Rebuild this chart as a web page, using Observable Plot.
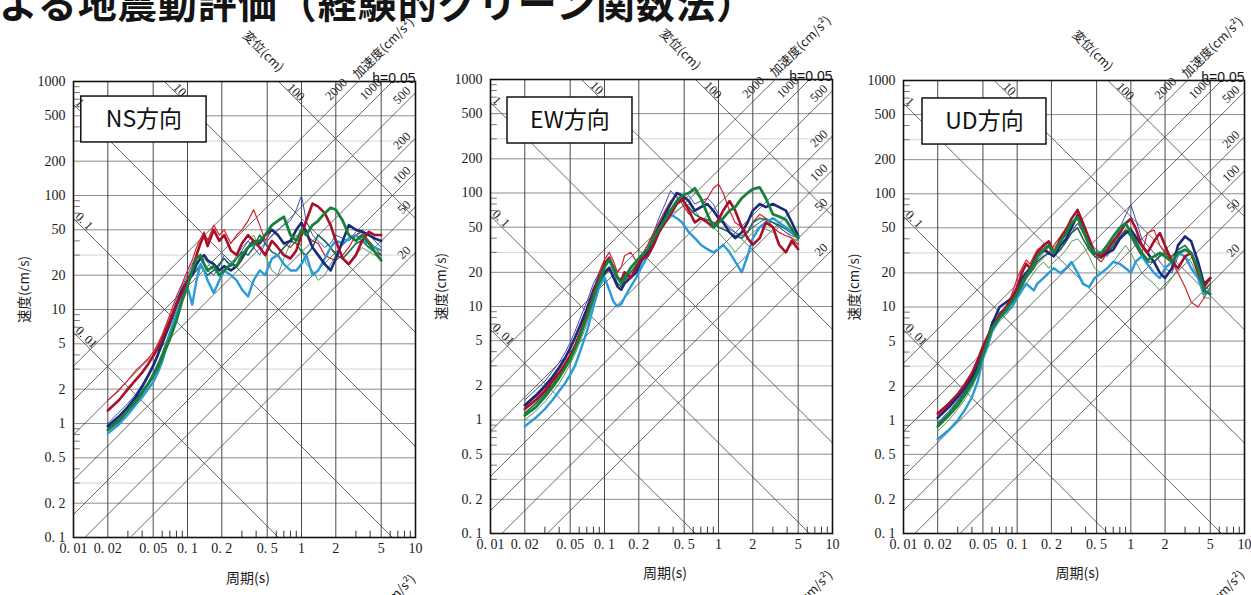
<!DOCTYPE html>
<html><head><meta charset="utf-8">
<script src="https://cdn.jsdelivr.net/npm/d3@7"></script>
<script src="https://cdn.jsdelivr.net/npm/@observablehq/plot@0.6"></script>
<style>
html,body{margin:0;padding:0;background:#fff}
body{width:1251px;height:595px;overflow:hidden;position:relative;font-family:"Noto Sans CJK JP",sans-serif}
#title{position:absolute;left:-1px;top:-18px;font-size:39px;font-weight:700;white-space:nowrap;line-height:1;color:#141414;letter-spacing:1px}
.panel{position:absolute;top:0}
</style></head><body>
<div id="title">よる地震動評価（経験的グリーン関数法）</div>
<div id="p1" class="panel" style="left:0px"></div>
<div id="p2" class="panel" style="left:417px"></div>
<div id="p3" class="panel" style="left:830px"></div>
<script>
// ---------- data ----------
const periods = [0.02,0.025,0.03,0.035,0.04,0.045,0.05,0.055,0.06,0.07,0.08,0.09,0.1,0.11,0.12,0.13,0.14,0.15,0.17,0.19,0.21,0.24,0.27,0.3,0.34,0.38,0.43,0.48,0.55,0.62,0.7,0.8,0.9,1.0,1.1,1.25,1.4,1.6,1.8,2.0,2.3,2.6,3.0,3.4,3.9,4.4,5.0];

const seriesNames  = ["green thin","blue thin","red thin","teal","cyan","navy","dark red","dark green"];
const seriesColors = ["#4f9c58","#3550b8","#d3222e","#1f6b4e","#2a9bd9","#1b2a78","#a90f28","#17803a"];
const seriesWidths = [1.0,1.0,1.2,1.6,2.4,2.6,2.6,2.8];

// NS component
const nsGreenThin = [0.92,1.1,1.35,1.6,1.95,2.3,2.8,3.4,4.2,6.5,10,14,18,21,23,25,28,26,22,25,28,24,30,35,40,45,35,30,22,20,28,38,45,35,25,22,18,20,25,30,28,25,30,35,32,30,28];
const nsBlueThin  = [1.0,1.25,1.5,1.8,2.2,2.7,3.3,4.2,5.3,8,12,16,20,25,30,28,25,22,20,24,30,26,28,33,40,35,30,38,45,50,55,60,75,100,60,45,40,35,38,45,42,40,45,50,45,40,35];
const nsRedThin   = [1.6,1.95,2.4,2.9,3.3,3.7,4.2,5,6,9,13,17,22,27,35,42,48,40,55,45,50,38,45,50,60,75,55,40,50,45,38,35,40,50,45,40,38,30,28,27,30,35,45,48,40,35,30];
const nsTeal      = [0.9,1.08,1.3,1.6,1.9,2.25,2.7,3.3,4,6,9,13,17,20,22,24,22,20,22,25,28,24,28,32,30,35,45,38,32,30,35,40,38,32,30,35,45,40,35,30,28,32,38,40,35,32,30];
const nsCyan      = [0.82,0.98,1.2,1.45,1.7,2.0,2.3,2.8,3.5,6,9,13,16,11,18,25,22,18,14,18,22,20,18,15,13,18,22,20,28,30,25,22,22,25,30,20,22,28,35,40,38,42,45,40,38,35,33];
const nsNavy      = [0.95,1.15,1.4,1.7,2.1,2.6,3.2,4,5,7.5,11,15,18,20,25,28,30,27,25,22,24,22,24,28,35,40,38,45,50,45,38,40,50,58,48,35,30,25,22,28,40,55,50,48,45,42,40];
const nsDarkRed   = [1.3,1.6,2.0,2.4,2.8,3.3,3.9,4.6,5.5,8,11,14,18,22,30,38,45,36,50,40,45,33,30,38,45,40,35,30,40,35,30,28,33,45,60,85,80,70,55,40,28,25,30,40,48,45,45];
const nsDarkGreen = [0.88,1.05,1.3,1.55,1.85,2.2,2.6,3.1,3.8,5.5,8,12,16,22,28,30,25,22,24,20,22,25,24,30,35,38,40,45,55,60,65,45,40,50,45,55,60,70,78,75,60,45,40,45,38,32,27];

// EW component
const ewGreenThin = [1.0,1.2,1.45,1.75,2.1,2.55,3.1,3.8,4.7,7,11,16,20,22,18,15,14,16,20,24,28,30,38,45,55,65,70,75,80,70,60,55,50,45,40,35,30,35,40,45,50,48,45,50,45,40,38];
const ewBlueThin  = [1.5,1.85,2.2,2.7,3.2,3.9,4.8,6,7.5,11,16,20,22,25,20,16,15,18,20,22,28,35,45,60,80,105,90,85,95,80,85,90,80,65,55,48,45,42,45,50,55,60,55,50,45,42,40];
const ewRedThin   = [1.3,1.6,1.9,2.3,2.8,3.4,4.2,5.2,6.5,9,14,20,26,30,25,20,22,28,30,25,28,35,45,55,70,85,95,80,65,70,75,90,110,120,100,70,55,50,45,55,65,60,50,45,42,40,35];
const ewTeal      = [1.15,1.4,1.7,2.05,2.45,2.95,3.55,4.4,5.4,8,12,16,19,21,18,16,15,17,20,23,27,32,42,52,62,72,80,85,75,65,60,58,55,50,48,45,42,40,45,55,60,58,55,52,48,44,40];
const ewCyan      = [0.88,1.05,1.25,1.5,1.8,2.1,2.5,3.0,3.8,6,10,15,18,14,11,10,10.5,12,15,18,22,28,35,45,55,65,60,55,45,40,35,32,30,32,35,30,25,20,28,40,50,55,60,55,50,45,40];
const ewNavy      = [1.35,1.65,2.0,2.4,2.9,3.5,4.3,5.3,6.5,9.5,14,18,20,22,18,15,14,16,18,20,25,30,40,50,65,80,100,95,85,70,75,80,70,60,55,45,40,45,55,70,80,75,80,75,70,55,42];
const ewDarkRed   = [1.25,1.5,1.8,2.2,2.6,3.1,3.7,4.5,5.6,8.5,13,18,24,27,22,18,17,20,18,22,26,28,35,45,55,65,80,90,70,55,60,55,50,58,70,85,70,50,40,35,40,55,50,35,30,38,32];
const ewDarkGreen = [1.1,1.3,1.6,1.95,2.35,2.85,3.4,4.2,5.2,8,12,17,22,26,22,18,16,18,22,25,28,32,40,48,58,70,85,95,100,110,90,65,50,55,60,70,75,90,100,108,112,90,65,62,58,48,40];

// UD component
const udGreenThin = [0.8,1.0,1.25,1.55,1.95,2.5,3.5,4.5,6,7.5,8.5,10,12,14,16,18,20,22,25,22,25,28,32,38,40,35,28,22,20,22,25,30,35,30,25,20,18,16,14,15,18,22,28,25,18,12,12];
const udBlueThin  = [0.95,1.2,1.5,1.85,2.3,3.0,4.2,5.5,7.5,9,10,11,13,16,18,20,22,26,30,34,30,32,38,45,55,45,38,33,30,28,35,50,65,80,60,40,35,30,25,22,20,28,32,30,22,15,14];
const udRedThin   = [1.1,1.35,1.65,2.0,2.5,3.2,4.2,5,6.2,8,10,13,18,22,26,24,28,32,35,30,35,42,50,55,60,45,35,28,25,30,35,40,45,50,40,30,45,48,35,30,25,20,15,11,10,12,15];
const udTeal      = [0.92,1.15,1.45,1.8,2.25,2.9,4.0,5.2,6.8,8.5,10,11.5,13,15,18,20,22,25,28,30,28,32,38,45,50,40,32,28,27,30,35,42,48,42,35,28,25,25,28,30,28,32,35,30,20,14,16];
const udCyan      = [0.68,0.82,1.0,1.25,1.6,2.2,3.5,4.5,6,8,9,10,12,14,16,15,14,16,18,20,22,20,22,25,20,16,15,18,20,22,25,24,22,20,25,28,24,20,18,22,25,30,28,22,18,13,14];
const udNavy      = [1.05,1.3,1.6,1.95,2.4,3.0,4.0,5.2,7,10,11,12,14,18,20,22,25,28,32,30,28,35,40,50,65,50,35,30,28,30,32,40,45,48,42,35,30,25,20,18,22,35,42,38,25,16,18];
const udDarkRed   = [1.15,1.4,1.7,2.1,2.6,3.4,4.5,5.5,6.5,8.5,10,12,15,20,24,22,26,30,35,38,30,40,48,60,72,55,40,30,28,32,38,45,55,60,50,35,30,38,45,35,25,22,28,30,20,15,18];
const udDarkGreen = [0.88,1.1,1.35,1.7,2.1,2.7,3.8,5,6.5,8,9.5,11,13,16,19,21,24,28,32,35,30,38,45,55,62,48,35,30,30,35,42,50,55,45,38,30,26,28,30,28,25,30,32,30,22,14,13];

// axes / reference lines
const xTickValues = [0.01,0.02,0.05,0.1,0.2,0.5,1,2,5,10];
const xTickLabels = ["0. 01","0. 02","0. 05","0. 1","0. 2","0. 5","1","2","5","10"];
const yTickValues = [0.1,0.2,0.5,1,2,5,10,20,50,100,200,500,1000];
const yTickLabels = ["0. 1","0. 2","0. 5","1","2","5","10","20","50","100","200","500","1000"];
const xGridValues = [0.02,0.05,0.1,0.2,0.5,1,2,5];
const yGridValues = [0.2,0.5,1,2,5,10,20,50,100,200,500];
const yFaintValues = [0.3,3,30,300];
const xMinorTicks = [0.03,0.04,0.06,0.07,0.08,0.09,0.3,0.4,0.6,0.7,0.8,0.9,3,4,6,7,8,9];
const yMinorTicks = [0.3,0.4,0.6,0.7,0.8,0.9,3,4,6,7,8,9,30,40,60,70,80,90,300,400,600,700,800,900];
const dispValues = [0.01,0.1,1,10,100];            // cm
const dispLabels = ["0. 01","0. 1","1","10","100"];
const accelValues = [20,50,100,200,500,1000,2000]; // cm/s^2
const accelLabels = ["20","50","100","200","500","1000","2000"];
const panelLabels = ["NS方向","EW方向","UD方向"];

// ---------- helpers ----------
const TX = [0.01, 10], VY = [0.1, 1000];
const TWO_PI = 2 * Math.PI;
const L = Math.log10;
function dispSeg(D) {
  const k = TWO_PI * D;
  const t1 = Math.max(TX[0], k / VY[1]), t2 = Math.min(TX[1], k / VY[0]);
  return {x1: t1, y1: k / t1, x2: t2, y2: k / t2};
}
function accelSeg(A) {
  const c = A / TWO_PI;
  const t1 = Math.max(TX[0], VY[0] / c), t2 = Math.min(TX[1], VY[1] / c);
  return {x1: t1, y1: c * t1, x2: t2, y2: c * t2};
}
function dispLabelPos(D, i) {
  const k = TWO_PI * D;
  let lt, lv, a, p;
  if (k / TX[0] <= VY[1]) { lt = L(TX[0]); lv = L(k / TX[0]); a = 0; p = 0.035; }
  else { lt = L(k / VY[1]); lv = L(VY[1]); a = 0.065; p = 0.03; }
  return {T: 10 ** (lt + a + p), V: 10 ** (lv - a + p), text: dispLabels[i]};
}
function accelLabelPos(A, i) {
  const c = A / TWO_PI;
  let lt, lv, a, p;
  if (c * TX[1] <= VY[1]) { lt = L(TX[1]); lv = L(c * TX[1]); a = -0.013; p = 0.048; }
  else { lt = L(VY[1] / c); lv = L(VY[1]); a = -0.053; p = 0.061; }
  return {T: 10 ** (lt + a - p), V: 10 ** (lv + a + p), text: accelLabels[i]};
}

const SERIF = "'Liberation Serif','DejaVu Serif',serif";
const panels = [
  {el: "#p1", label: panelLabels[0], series: [nsGreenThin,nsBlueThin,nsRedThin,nsTeal,nsCyan,nsNavy,nsDarkRed,nsDarkGreen],
   width: 420, mt: 81, mb: 58, mr: 5, box: [0.0117, 0.147, 292, 738]},
  {el: "#p2", label: panelLabels[1], series: [ewGreenThin,ewBlueThin,ewRedThin,ewTeal,ewCyan,ewNavy,ewDarkRed,ewDarkGreen],
   width: 420, mt: 79, mb: 62, mr: 5, box: [0.0141, 0.176, 273, 694]},
  {el: "#p3", label: panelLabels[2], series: [udGreenThin,udBlueThin,udRedThin,udTeal,udCyan,udNavy,udDarkRed,udDarkGreen],
   width: 421, mt: 80, mb: 62, mr: 7, box: [0.0147, 0.181, 272, 694]}
];

for (const P of panels) {
  const lineMarks = P.series.map((vals, s) =>
    Plot.line(periods.map((T, j) => ({T, V: vals[j]})), {
      x: "T", y: "V", stroke: seriesColors[s], strokeWidth: seriesWidths[s],
      curve: "linear", strokeLinejoin: "round"
    }));
  const [bx1, bx2, by1, by2] = P.box;
  const chart = Plot.plot({
    width: P.width, height: 595,
    marginLeft: 73, marginRight: P.mr, marginTop: P.mt, marginBottom: P.mb,
    x: {type: "log", domain: TX, axis: null},
    y: {type: "log", domain: VY, axis: null},
    style: {background: "transparent", overflow: "visible", fontFamily: SERIF, fontSize: "14px", color: "#1a1a1a"},
    marks: [
      Plot.ruleY(yFaintValues, {stroke: "#cfcfcf", strokeWidth: 0.9}),
      Plot.ruleY(yGridValues, {stroke: "#8c8c8c", strokeWidth: 1}),
      Plot.ruleX(xGridValues, {stroke: "#4a4a4a", strokeWidth: 1}),
      Plot.link(dispValues.map(dispSeg), {x1: "x1", y1: "y1", x2: "x2", y2: "y2", stroke: "#444", strokeWidth: 0.8}),
      Plot.link(accelValues.map(accelSeg), {x1: "x1", y1: "y1", x2: "x2", y2: "y2", stroke: "#444", strokeWidth: 0.8}),
      Plot.link(yMinorTicks, {x1: () => TX[0], x2: () => TX[0] * 10 ** 0.055, y1: d => d, y2: d => d, stroke: "#555", strokeWidth: 0.8}),
      Plot.link(xMinorTicks, {y1: () => VY[0], y2: () => VY[0] * 10 ** 0.06, x1: d => d, x2: d => d, stroke: "#333", strokeWidth: 1}),
      ...lineMarks,
      Plot.frame({stroke: "#111", strokeWidth: 1.6}),
      Plot.rect([P.box], {x1: () => bx1, x2: () => bx2, y1: () => by1, y2: () => by2, fill: "white", stroke: "#111", strokeWidth: 1.5}),
      Plot.text([P.label], {x: () => Math.sqrt(bx1 * bx2), y: () => Math.sqrt(by1 * by2), text: d => d,
        fontFamily: "'Noto Sans CJK JP',sans-serif", fontSize: 23, fill: "#111"}),
      // tick labels
      Plot.text(xTickValues, {x: d => d, y: () => VY[0], text: (d, i) => xTickLabels[i], dy: 11, fontSize: 14}),
      Plot.text(yTickValues, {x: () => TX[0], y: d => d, text: (d, i) => yTickLabels[i], textAnchor: "end", dx: -8, fontSize: 14}),
      // diagonal scale labels
      Plot.text(dispValues.map(dispLabelPos), {x: "T", y: "V", text: "text", rotate: 45, textAnchor: "start", fontSize: 12.5}),
      Plot.text(accelValues.map(accelLabelPos), {x: "T", y: "V", text: "text", rotate: -45, textAnchor: "end", fontSize: 12.5}),
      // axis titles
      Plot.text(["変位(cm)"], {x: () => 0.46, y: () => 1830, text: d => d, rotate: 45, fontSize: 12.5, fontFamily: "'Noto Sans CJK JP',serif"}),
      Plot.text(["加速度(cm/s²)"], {x: () => 5.25, y: () => 1950, text: d => d, rotate: -45, fontSize: 12.5, fontFamily: "'Noto Sans CJK JP',serif"}),
      Plot.text(["加速度(cm/s²)"], {x: () => 9.6, y: () => 0.045, text: d => d, rotate: -45, textAnchor: "end", fontSize: 12.5, fontFamily: "'Noto Sans CJK JP',serif"}),
      Plot.text(["h=0.05"], {frameAnchor: "top-right", text: d => d, textAnchor: "end", dy: -8, fontSize: 14, fontFamily: "'Liberation Sans',Arial,sans-serif", fill: "#111"}),
      Plot.text(["速度(cm/s)"], {x: () => 0.0037, y: () => 15, text: d => d, rotate: -90, fontSize: 13.5, fontFamily: "'Noto Sans CJK JP',serif"}),
      Plot.text(["周期(s)"], {x: () => 0.34, y: () => 0.044, text: d => d, fontSize: 14, fontFamily: "'Noto Sans CJK JP',serif"})
    ]
  });
  document.querySelector(P.el).append(chart);
}
</script>
</body></html>
